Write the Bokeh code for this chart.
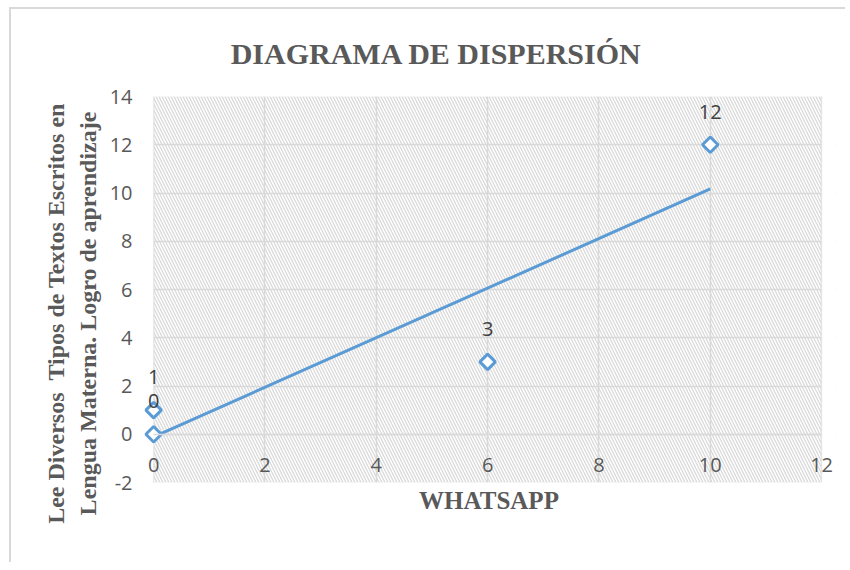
import numpy as np
from bokeh.plotting import figure
from bokeh.models import BoxAnnotation, FixedTicker, Range1d, LinearAxis, Title
from bokeh.core.properties import value
from bokeh.embed import file_html
from bokeh.resources import INLINE

# ---- data ----
whatsapp = [0, 0, 6, 10]
logro = [0, 1, 3, 12]
point_labels = [str(v) for v in logro]
x_ticks = [0, 2, 4, 6, 8, 10, 12]
y_ticks = [-2, 0, 2, 4, 6, 8, 10, 12, 14]
title_text = "DIAGRAMA DE DISPERSIÓN"
x_title = "WHATSAPP"
y_title_lines = ["Lee Diversos  Tipos de Textos Escritos en",
                 "Lengua Materna. Logro de aprendizaje"]

BLUE = "#5B9BD5"
GRID = "#D9D9D9"
TXT = "#595959"
LBL = "#404040"
NBSP = "\u00a0"

x0, x1 = x_ticks[0], x_ticks[-1]
y0, y1 = y_ticks[0], y_ticks[-1]
pad_l, pad_r = 0.2, 0.25

p = figure(width=836, height=555,
           x_range=Range1d(x0 - pad_l, x1 + pad_r), y_range=Range1d(y0, y1),
           output_backend="svg", toolbar_location=None, title=None,
           min_border_left=131, min_border_right=12,
           min_border_top=87, min_border_bottom=82)
p.outline_line_color = None
p.background_fill_color = "white"
p.border_fill_color = "white"
p.styles = {"margin-left": "9px", "margin-top": "7px",
            "border-left": "2px solid #D9D9D9", "border-top": "2px solid #D9D9D9"}

# hatched plot area
p.add_layout(BoxAnnotation(left=x0, right=x1, bottom=y0, top=y1,
                           fill_color="white", fill_alpha=1,
                           hatch_pattern="\\", hatch_color=GRID,
                           hatch_scale=6, hatch_weight=1.3,
                           line_color=None, level="image"))

# grids
p.xgrid.ticker = FixedTicker(ticks=x_ticks)
p.ygrid.ticker = FixedTicker(ticks=y_ticks)
for g in (p.xgrid, p.ygrid):
    g.grid_line_color = GRID
    g.grid_line_width = 1.5

# mask the padding strips left and right of the plot area
for l, r in ((x0 - pad_l, x0), (x1, x1 + pad_r)):
    p.add_layout(BoxAnnotation(left=l, right=r, bottom=y0, top=y1,
                               fill_color="white", fill_alpha=1,
                               line_color=None, level="underlay"))
# plot area border
p.add_layout(BoxAnnotation(left=x0, right=x1, bottom=y0, top=y1,
                           fill_color=None, fill_alpha=0,
                           line_color=GRID, line_width=1.5, level="underlay"))

# axes with tick labels
p.xaxis.fixed_location = 0
p.xaxis.ticker = FixedTicker(ticks=x_ticks)
p.xaxis.bounds = (x0, x1)
p.yaxis.ticker = FixedTicker(ticks=y_ticks)
p.yaxis.major_label_overrides = {t: str(t) for t in y_ticks}
for ax in (p.xaxis, p.yaxis):
    ax.major_tick_line_color = None
    ax.minor_tick_line_color = None
    ax.major_tick_out = 0
    ax.major_tick_in = 0
    ax.major_label_text_font = "Open Sans"
    ax.major_label_text_font_size = "20px"
    ax.major_label_text_color = TXT
p.xaxis.axis_line_color = GRID
p.xaxis.axis_line_width = 1.5
p.yaxis.axis_line_color = None
p.xaxis.major_label_standoff = 24
p.yaxis.major_label_standoff = 10

# axis titles on label-only axes
xt = LinearAxis(ticker=FixedTicker(ticks=[]), axis_label=x_title,
                axis_line_color=None, major_tick_line_color=None,
                minor_tick_line_color=None, major_label_text_font_size="0px",
                axis_label_standoff=4, axis_label_text_font="Liberation Serif",
                axis_label_text_font_style="bold", axis_label_text_font_size="25px",
                axis_label_text_color=TXT)
p.add_layout(xt, "below")
# keep double spaces visible; trailing no-break spaces shift the rotated label down
y_title = "\n".join(line.replace("  ", " " + NBSP) + NBSP * 8 for line in y_title_lines)
yt = LinearAxis(ticker=FixedTicker(ticks=[]), axis_label=y_title,
                axis_line_color=None, major_tick_line_color=None,
                minor_tick_line_color=None, major_label_text_font_size="0px",
                axis_label_standoff=6, axis_label_text_font="Liberation Serif",
                axis_label_text_font_style="bold", axis_label_text_font_size="24px",
                axis_label_text_color=TXT)
p.add_layout(yt, "left")

# trendline (linear fit)
slope, intercept = np.polyfit(whatsapp, logro, 1)
tx = [min(whatsapp), max(whatsapp)]
ty = [slope * v + intercept for v in tx]
p.line(tx, ty, line_color=BLUE, line_width=3)

# points
p.scatter(whatsapp, logro, marker="square", size=11, angle=np.pi / 4,
          line_color=BLUE, line_width=3, fill_color="white")

# data labels
p.text(whatsapp, logro, text=point_labels, y_offset=-33,
       text_align="center", text_baseline="middle",
       text_font=value("Open Sans"), text_font_size="20px", text_color=LBL)

# chart title (trailing no-break spaces shift it left of the frame centre)
p.add_layout(Title(text=title_text + NBSP * 14, align="center",
                   vertical_align="top", standoff=50,
                   text_font="Liberation Serif", text_font_style="bold",
                   text_font_size="30px", text_color=TXT), "above")

open("out.html", "w").write(file_html(p, INLINE))
